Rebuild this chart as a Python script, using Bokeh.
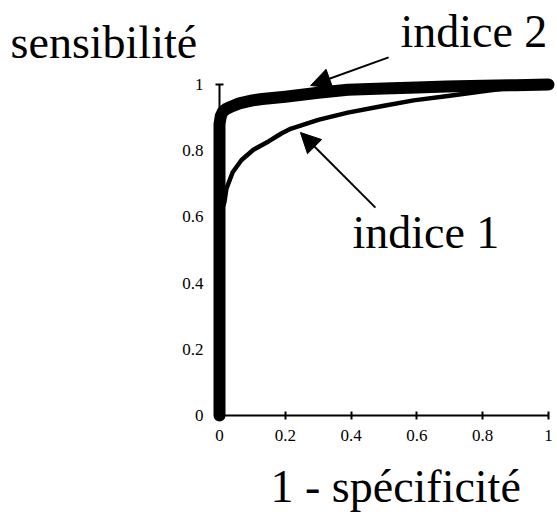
from bokeh.plotting import figure
from bokeh.models import Label, Arrow, NormalHead, FixedTicker, Range1d
from bokeh.embed import file_html
from bokeh.resources import INLINE

# ROC curve data (1 - specificity, sensitivity)
indice2_x = [0, 0, 0.004, 0.01, 0.02, 0.033, 0.06, 0.1, 0.13, 0.2, 0.3, 0.39, 0.5, 0.6, 0.69, 0.8, 0.9, 1.0]
indice2_y = [0, 0.88, 0.905, 0.918, 0.926, 0.932, 0.943, 0.952, 0.956, 0.963, 0.975, 0.984, 0.988, 0.991, 0.994, 0.996, 0.998, 1.0]

indice1_x = [0, 0, 0.015, 0.021, 0.04, 0.067, 0.103, 0.149, 0.188, 0.216, 0.3, 0.39, 0.5, 0.59, 0.7, 0.79, 0.89, 1.0]
indice1_y = [0, 0.6, 0.645, 0.685, 0.735, 0.772, 0.803, 0.828, 0.852, 0.866, 0.893, 0.915, 0.936, 0.952, 0.966, 0.978, 0.991, 1.0]

tick_values = [0, 0.2, 0.4, 0.6, 0.8, 1]
tick_labels = ["0", "0.2", "0.4", "0.6", "0.8", "1"]

y_title = "sensibilité"
x_title = "1 - spécificité"
label2 = "indice 2"
label1 = "indice 1"

# annotation anchors (data units)
arrow2 = dict(x_start=0.514, y_start=1.082, x_end=0.277, y_end=0.997)
arrow1 = dict(x_start=0.474, y_start=0.628, x_end=0.246, y_end=0.855)

FONT = "Liberation Serif"

W, H = 557, 515
X0_PX, XSCALE = 219, 329   # pixel of x=0, pixels per unit
Y0_PX, YSCALE = 415, 331   # pixel of y=0 (from top), pixels per unit

p = figure(width=W, height=H,
           x_range=Range1d(-X0_PX / XSCALE, (W - X0_PX) / XSCALE),
           y_range=Range1d(-(H - Y0_PX) / YSCALE, Y0_PX / YSCALE),
           output_backend="svg", toolbar_location=None,
           min_border_left=0, min_border_right=0,
           min_border_top=0, min_border_bottom=0)

p.outline_line_color = None
p.xgrid.visible = False
p.ygrid.visible = False
p.background_fill_color = "white"
p.border_fill_color = "white"

p.line(indice1_x, indice1_y, line_width=4.5, line_color="black",
       line_cap="round", line_join="round")
p.line(indice2_x, indice2_y, line_width=12, line_color="black",
       line_cap="round", line_join="round")

for ax in (p.xaxis[0], p.yaxis[0]):
    ax.fixed_location = 0
    ax.bounds = (0, 1)
    ax.ticker = FixedTicker(ticks=tick_values)
    ax.major_label_overrides = {v: l for v, l in zip(tick_values, tick_labels)}
    ax.minor_tick_line_color = None
    ax.major_tick_in = 4
    ax.major_tick_out = 4
    ax.axis_line_width = 2
    ax.major_tick_line_width = 2
    ax.axis_line_color = "black"
    ax.major_tick_line_color = "black"
    ax.major_label_text_font = FONT
    ax.major_label_text_font_size = "17px"
    ax.major_label_text_color = "black"
p.yaxis[0].major_label_standoff = 12
p.xaxis[0].major_label_standoff = 10

big = "46px"
for txt, x, y in [(y_title, -0.635, 1.126), (label2, 0.550, 1.160),
                  (label1, 0.404, 0.553), (x_title, 0.155, -0.215)]:
    p.add_layout(Label(x=x, y=y, text=txt, text_font=FONT, text_font_size=big,
                       text_color="black", text_baseline="alphabetic",
                       text_align="left"))

for a in (arrow2, arrow1):
    p.add_layout(Arrow(end=NormalHead(size=20, fill_color="black", line_color="black"),
                       line_width=2, line_color="black", **a))

open("out.html", "w").write(file_html(p, INLINE))
